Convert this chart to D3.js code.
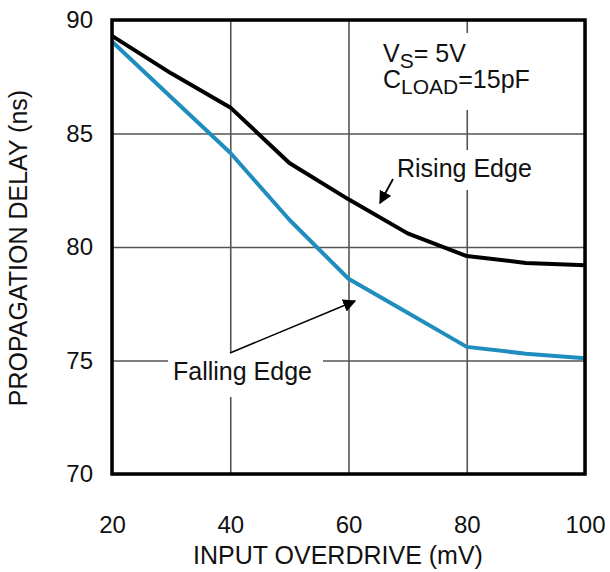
<!DOCTYPE html>
<html>
<head>
<meta charset="utf-8">
<script src="https://cdn.jsdelivr.net/npm/d3@7"></script>
<style>
  body { margin: 0; background: #fff; }
  text { font-family: "Liberation Sans", Arial, sans-serif; fill: #111; }
</style>
</head>
<body>
<div class="mainContainer"></div>
<script>
// data
const overdrive = [20, 30, 40, 50, 60, 70, 80, 90, 100];
const risingEdge = [89.3, 87.65, 86.15, 83.7, 82.1, 80.6, 79.6, 79.3, 79.2];
const fallingEdge = [89.05, 86.6, 84.15, 81.2, 78.6, 77.1, 75.6, 75.3, 75.1];
const xTicks = [20, 40, 60, 80, 100];
const yTicks = [70, 75, 80, 85, 90];

const W = 610, H = 572;
const m = {left: 112, top: 20, right: 25, bottom: 98};
const w = W - m.left - m.right;
const h = H - m.top - m.bottom;

const svg = d3.select('.mainContainer')
    .append('svg')
    .attr('width', W)
    .attr('height', H);

const graph = svg.append('g')
    .attr('transform', `translate(${m.left},${m.top})`);

const x = d3.scaleLinear().domain([20, 100]).range([0, w]);
const y = d3.scaleLinear().domain([70, 90]).range([h, 0]);

// grid + tick labels via axes
const xAxisGroup = graph.append('g')
    .attr('transform', `translate(0,${h})`)
    .call(d3.axisBottom(x).tickValues(xTicks).tickSize(-h).tickPadding(42));
const yAxisGroup = graph.append('g')
    .call(d3.axisLeft(y).tickValues(yTicks).tickSize(-w).tickPadding(19));

[xAxisGroup, yAxisGroup].forEach(g => {
    g.select('.domain').remove();
    g.selectAll('line').attr('stroke', '#555').attr('stroke-width', 1.6);
    g.selectAll('text').style('font-size', '24px').attr('fill', '#111');
});

// white boxes that break the grid under labels
const boxes = [[268, 13, 160, 77], [280, 130, 148, 40], [56, 333, 155, 44]];
graph.selectAll('rect.bg').data(boxes).enter()
    .append('rect')
    .attr('class', 'bg')
    .attr('x', d => d[0]).attr('y', d => d[1])
    .attr('width', d => d[2]).attr('height', d => d[3])
    .attr('fill', '#fff');

const line = d3.line()
    .x((d, i) => x(overdrive[i]))
    .y(d => y(d));

graph.append('path')
    .attr('d', line(risingEdge))
    .attr('fill', 'none')
    .attr('stroke', '#000')
    .attr('stroke-width', 4)
    .attr('stroke-linejoin', 'round');

graph.append('path')
    .attr('d', line(fallingEdge))
    .attr('fill', 'none')
    .attr('stroke', '#1f8dbd')
    .attr('stroke-width', 4)
    .attr('stroke-linejoin', 'round');

// frame
graph.append('rect')
    .attr('width', w).attr('height', h)
    .attr('fill', 'none')
    .attr('stroke', '#000')
    .attr('stroke-width', 3.5);

// arrows
svg.append('defs').append('marker')
    .attr('id', 'head')
    .attr('viewBox', '0 0 10 10')
    .attr('refX', 9).attr('refY', 5)
    .attr('markerWidth', 13).attr('markerHeight', 13)
    .attr('markerUnits', 'userSpaceOnUse')
    .attr('orient', 'auto')
    .append('path')
    .attr('d', 'M0,0 L10,5 L0,10 Z')
    .attr('fill', '#000');

graph.append('line')
    .attr('x1', 281).attr('y1', 159).attr('x2', 268).attr('y2', 183)
    .attr('stroke', '#000').attr('stroke-width', 1.8)
    .attr('marker-end', 'url(#head)');
graph.append('line')
    .attr('x1', 118).attr('y1', 333).attr('x2', 243).attr('y2', 281)
    .attr('stroke', '#000').attr('stroke-width', 1.5)
    .attr('marker-end', 'url(#head)');

// labels
graph.append('text')
    .attr('x', 285).attr('y', 157)
    .style('font-size', '25px')
    .text('Rising Edge');
graph.append('text')
    .attr('x', 61).attr('y', 360)
    .style('font-size', '25px')
    .text('Falling Edge');

const vs = graph.append('text').attr('x', 271).attr('y', 42).style('font-size', '25px');
vs.append('tspan').text('V');
vs.append('tspan').attr('dy', 6).style('font-size', '21px').text('S');
vs.append('tspan').attr('dy', -6).text('= 5V');

const cl = graph.append('text').attr('x', 271).attr('y', 68).style('font-size', '25px');
cl.append('tspan').text('C');
cl.append('tspan').attr('dy', 6).style('font-size', '21px').text('LOAD');
cl.append('tspan').attr('dy', -6).text('=15pF');

// axis titles
svg.append('text')
    .attr('x', 338).attr('y', 564)
    .attr('text-anchor', 'middle')
    .style('font-size', '25px')
    .text('INPUT OVERDRIVE (mV)');

svg.append('text')
    .attr('transform', 'translate(27,248) rotate(-90)')
    .attr('text-anchor', 'middle')
    .style('font-size', '25px')
    .text('PROPAGATION DELAY (ns)');
</script>
</body>
</html>
